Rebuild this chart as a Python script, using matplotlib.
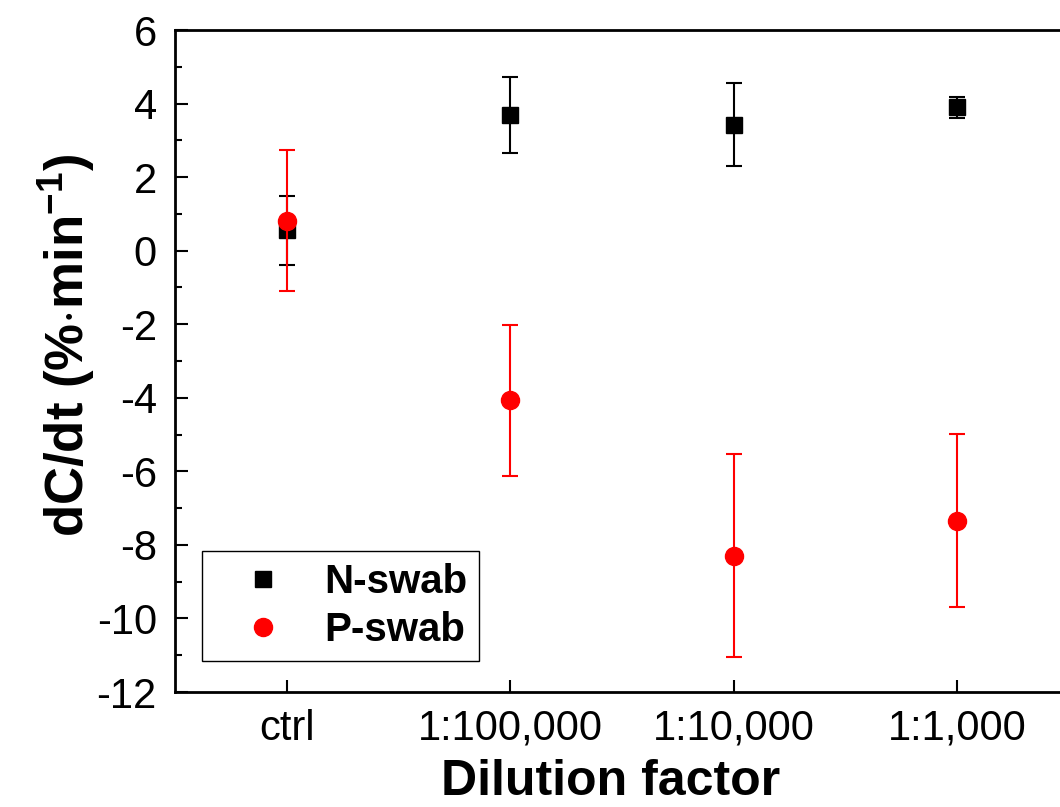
import numpy as np
import matplotlib
matplotlib.use('Agg')
import matplotlib.pyplot as plt
from matplotlib.lines import Line2D
from matplotlib.ticker import MultipleLocator

plt.rcParams['font.family'] = ['Liberation Sans', 'DejaVu Sans']
plt.rcParams['mathtext.fontset'] = 'custom'
plt.rcParams['mathtext.rm'] = 'Liberation Sans'
plt.rcParams['mathtext.bf'] = 'Liberation Sans:bold'
plt.rcParams['axes.unicode_minus'] = False

# data
categories = ['ctrl', '1:100,000', '1:10,000', '1:1,000']
n_swab = [0.55, 3.69, 3.43, 3.90]
n_err = [0.94, 1.03, 1.13, 0.28]
p_swab = [0.82, -4.07, -8.29, -7.34]
p_err = [1.92, 2.05, 2.75, 2.35]

x = np.arange(1, len(categories) + 1)

fig = plt.figure(figsize=(10.6, 8.07), dpi=100)
ax = fig.add_axes([0.165, 0.1425, 0.8435, 0.8203])

ax.errorbar(x, n_swab, yerr=n_err, fmt='s', color='black', ms=11.5,
            elinewidth=1.5, capsize=6, capthick=1.5, zorder=3)
ax.errorbar(x, p_swab, yerr=p_err, fmt='o', color='#ff0000', ms=13,
            elinewidth=1.5, capsize=6, capthick=1.5, zorder=4)

ax.set_xlim(0.5, 4.5)
ax.set_ylim(-12, 6)
ax.set_xticks(x)
ax.set_xticklabels(categories)
ax.yaxis.set_major_locator(MultipleLocator(2))
ax.yaxis.set_minor_locator(MultipleLocator(1))

ax.tick_params(axis='both', which='major', direction='in', length=9, width=1.5,
               labelsize=30)
ax.tick_params(axis='x', pad=12)
ax.tick_params(axis='y', pad=13)
ax.tick_params(axis='y', which='minor', direction='in', length=5, width=1.5)
ax.tick_params(top=False, right=False)
for s in ax.spines.values():
    s.set_linewidth(2)

ax.set_xlabel('Dilution factor', fontsize=36, fontweight='bold')
ax.xaxis.set_label_coords(0.487, -0.101)
ax.set_ylabel(r'dC/dt (%$\cdot$min$^{\mathbf{-1}}$)', fontsize=38,
              fontweight='bold')
ax.yaxis.set_label_coords(-0.087, 0.524)

handles = [Line2D([], [], ls='none', marker='s', color='black', ms=11.5),
           Line2D([], [], ls='none', marker='o', color='#ff0000', ms=13)]
leg = ax.legend(handles, ['N-swab', 'P-swab'], loc='lower left',
                bbox_to_anchor=(0.03, 0.047),
                prop={'weight': 'bold', 'size': 29}, fancybox=False,
                edgecolor='black', framealpha=1, handletextpad=0.28,
                borderpad=0.3, labelspacing=0.25, handlelength=2.45,
                borderaxespad=0)
leg.get_frame().set_linewidth(1)

fig.savefig('out.png', dpi=100)
